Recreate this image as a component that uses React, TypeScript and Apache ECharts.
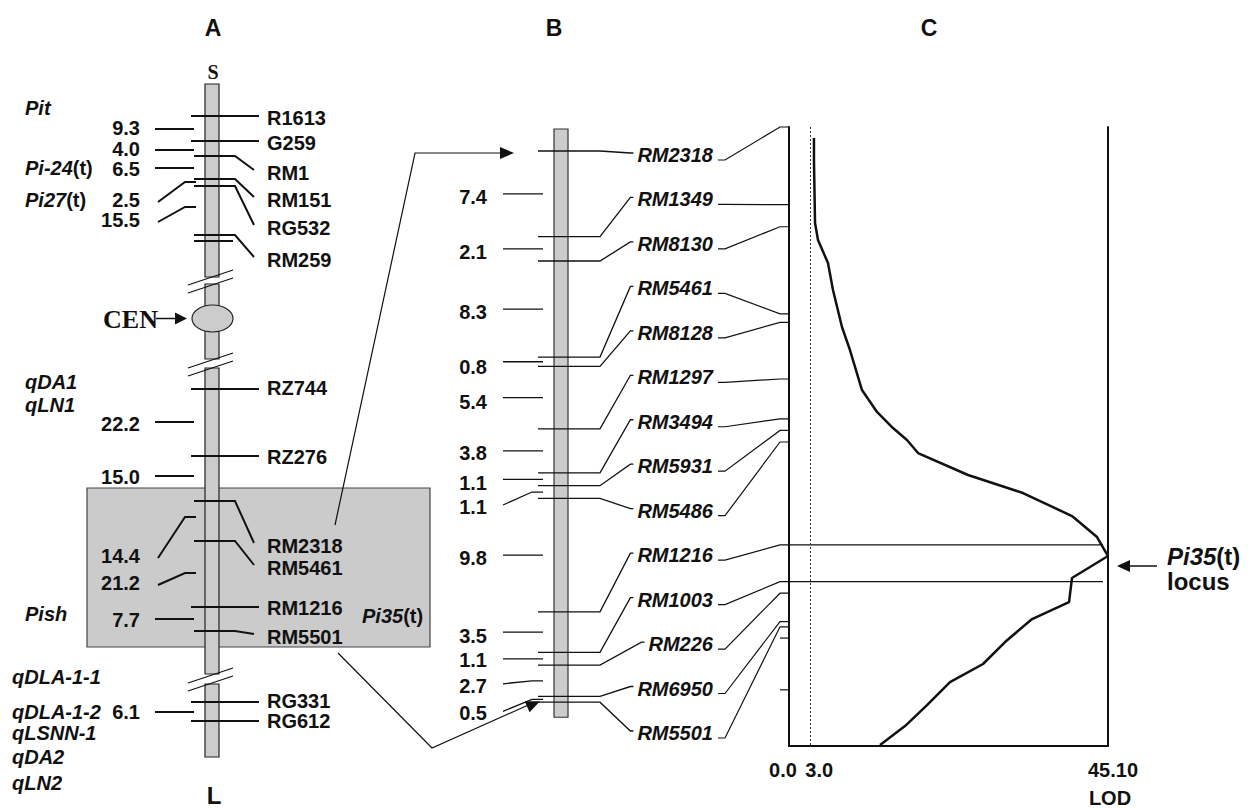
import React, { useEffect, useRef } from "react";
import * as echarts from "echarts";

// ---------------- DATA ----------------
// Panel A: chromosome-level map (schematic)
const aMarkerNames = ["R1613", "G259", "RM1", "RM151", "RG532", "RM259", "RZ744", "RZ276", "RM2318", "RM5461", "RM1216", "RM5501", "RG331", "RG612"];
const aIntervalLabels = ["9.3", "4.0", "6.5", "2.5", "15.5", "22.2", "15.0", "14.4", "21.2", "7.7", "6.1"];
const aQtlLabels = ["Pit", "Pi-24(t)", "Pi27(t)", "qDA1", "qLN1", "Pish", "qDLA-1-1", "qDLA-1-2", "qLSNN-1", "qDA2", "qLN2"];

// Panel B: fine map (cM intervals between adjacent markers)
const bMarkerNames = ["RM2318", "RM1349", "RM8130", "RM5461", "RM8128", "RM1297", "RM3494", "RM5931", "RM5486", "RM1216", "RM1003", "RM226", "RM6950", "RM5501"];
const bIntervals = [7.4, 2.1, 8.3, 0.8, 5.4, 3.8, 1.1, 1.1, 9.8, 3.5, 1.1, 2.7, 0.5];

// Panel C: LOD profile (LOD value at map position in cM)
const lodValues = [3.53, 3.53, 3.68, 4.1, 5.51, 6.22, 7.49, 8.62, 10.32, 12.44, 14.7, 16.68, 18.24, 25.31, 33.08, 40.01, 43.55, 45.1, 40.01, 39.59, 34.36, 30.54, 27.43, 22.76, 19.51, 16.4, 12.87];
const lodPositions = [1.05, 3.14, 9.14, 10.76, 12.95, 15.52, 19.05, 21.24, 25.05, 27.14, 28.67, 29.81, 31.05, 33.14, 34.86, 37.05, 39.05, 40.86, 42.95, 45.24, 46.86, 49.05, 51.14, 52.86, 55.05, 57.05, 58.86];
const lodTickLabels = ["0.0", "3.0", "45.10"];
const lodTickValues = [0, 3, 45.1];
const lodThreshold = 3.0;
const lodMax = 45.1;
const cMapLength = 58.95;
const cExtraTicks = [48.67, 53.6];
const cHighlighted = ["RM1216", "RM1003"];

// cumulative marker positions (cM) derived from the intervals
const bPositions = bIntervals.reduce((acc: number[], v) => {
  acc.push(Math.round((acc[acc.length - 1] + v) * 100) / 100);
  return acc;
}, [0]);

// ---------------- LAYOUT ----------------
const W = 1254;
const H = 808;
const FONT = "'Liberation Sans', Arial, Helvetica, sans-serif";
const SERIF = "'Liberation Serif', 'Times New Roman', serif";
const INK = "#111";
const BAR_FILL = "#cccccc";
const LH = 16;

const A = {
  barX: 205,
  barW: 14,
  segments: [[84, 277], [284, 359], [368, 674], [684, 757]],
  breaks: [[277, 285], [360, 368], [675, 683]],
  cen: { cx: 212.5, cy: 318.5, rx: 20.5, ry: 13.5 },
  markerY: [116, 141, 156, 179, 186, 235, 389, 456, 501, 541, 607, 631, 702, 721],
  labelY: [118, 143, 173, 200, 228, 260, 388, 457, 546, 568, 608, 637, 701, 721],
  extraTickY: [241],
  intervalY: [128, 149, 169, 200, 220, 424, 477, 556, 583, 620, 712],
  intervalLineY: [129, 150, 168, 182, 207, 422, 476, 517, 573, 619, 712],
  qtlX: [25, 25, 25, 25, 25, 25, 12, 12, 12, 12, 12],
  qtlY: [108, 168, 200, 382, 405, 614, 677, 712, 733, 757, 783],
  box: [87, 488, 430, 647],
};

const B = {
  zeroPx: 151,
  pxPerCM: 11.58,
  barX: 554,
  barW: 14,
  barTopCM: -1.9,
  barBotCM: 48.9,
  tickX1: 538,
  tickX2: 600,
  labelRight: 713,
  slot0: 4,
  slotStep: 44.46,
  intX1: 503,
  intX2: 543,
  intLabelRight: 487,
  intLabelShift: [3, 3, 3, 5, 4, 2, 4, 15, 3, 4, 1, 5, 14],
  intBent: [7, 11, 12],
};
const bMin = -B.zeroPx / B.pxPerCM;
const bMax = bMin + H / B.pxPerCM;

const C = { left: 789, top: 127, width: 319, height: 619, tickLen: 9, connStart: 718, connBend: 725, connKnee: 780 };

let measureCtx: CanvasRenderingContext2D | null = null;
function measure(text: string, font: string) {
  if (!measureCtx) measureCtx = document.createElement("canvas").getContext("2d");
  if (!measureCtx) return text.length * 12.8;
  measureCtx.font = font;
  return measureCtx.measureText(text).width;
}

function arrowHead(tip: number[], from: number[], len: number, half: number) {
  const dx = tip[0] - from[0];
  const dy = tip[1] - from[1];
  const d = Math.hypot(dx, dy) || 1;
  const ux = dx / d;
  const uy = dy / d;
  const bx = tip[0] - ux * len;
  const by = tip[1] - uy * len;
  return [[tip[0], tip[1]], [bx - uy * half, by + ux * half], [bx + uy * half, by - ux * half]];
}

function txt(x: number, y: number, text: string, font: string, align = "left", rich?: any) {
  return {
    type: "text",
    x,
    y,
    style: { text, font, fill: INK, lineHeight: LH, align, textAlign: align, verticalAlign: "middle", textVerticalAlign: "middle", rich },
  };
}

function pl(points: number[][], w = 2, color = INK) {
  return { type: "polyline", shape: { points }, style: { fill: "none", stroke: color, lineWidth: w } };
}

const F20 = `bold 20px ${FONT}`;
const FI20 = `italic bold 20px ${FONT}`;
const qtlRich = { i: { font: FI20, fill: INK, lineHeight: LH }, n: { font: F20, fill: INK, lineHeight: LH } };
function qtlText(s: string) {
  const m = s.match(/^(.*)(\(t\))$/);
  return m ? `{i|${m[1]}}{n|${m[2]}}` : `{i|${s}}`;
}

// ---------------- RENDERERS ----------------
const renderA = (_p: any, api: any) => {
  const P = (x: number, y: number) => api.coord([x, y]);
  const ch: any[] = [];
  const [bx1, by1] = P(A.box[0], A.box[1]);
  const [bx2, by2] = P(A.box[2], A.box[3]);
  ch.push({ type: "rect", shape: { x: bx1, y: by1, width: bx2 - bx1, height: by2 - by1 }, style: { fill: "#cbcbcb", stroke: "#444", lineWidth: 1.2 } });
  A.segments.forEach(([t, b]) => {
    const [x1, y1] = P(A.barX, t);
    const [x2, y2] = P(A.barX + A.barW, b);
    ch.push({ type: "rect", shape: { x: x1, y: y1, width: x2 - x1, height: y2 - y1 }, style: { fill: BAR_FILL, stroke: "#222", lineWidth: 1.2 } });
  });
  const c = P(A.cen.cx, A.cen.cy);
  ch.push({ type: "ellipse", shape: { cx: c[0], cy: c[1], rx: A.cen.rx, ry: A.cen.ry }, style: { fill: BAR_FILL, stroke: "#222", lineWidth: 1.2 } });
  const mid = A.barX + A.barW / 2;
  A.breaks.forEach((br) => {
    br.forEach((y) => {
      ch.push(pl([P(mid - 24, y + 8), P(mid + 21, y - 7)], 1.2));
    });
  });
  // CEN arrow
  ch.push(pl([P(156, A.cen.cy), P(176, A.cen.cy)], 1.5));
  ch.push({ type: "polygon", shape: { points: arrowHead(P(187, A.cen.cy), P(156, A.cen.cy), 12, 6) }, style: { fill: INK } });
  // markers
  aMarkerNames.forEach((name, i) => {
    const my = A.markerY[i];
    const ly = A.labelY[i];
    if (Math.abs(ly - my) <= 2) {
      ch.push(pl([P(191, my), P(259, my)], 2));
    } else {
      ch.push(pl([P(194, my), P(235, my), P(254, ly - 3)], 2));
    }
    ch.push(txt(P(267, ly)[0], P(267, ly)[1], name, F20));
  });
  A.extraTickY.forEach((y) => ch.push(pl([P(194, y), P(233, y)], 2)));
  // intervals
  aIntervalLabels.forEach((lab, j) => {
    const ly = A.intervalY[j];
    const ty = A.intervalLineY[j];
    if (Math.abs(ly - ty) <= 3) {
      ch.push(pl([P(155, ty), P(194, ty)], 2));
    } else {
      ch.push(pl([P(158, ly + 2), P(185, ty), P(196, ty)], 2));
    }
    ch.push(txt(P(140, ly)[0], P(140, ly)[1], lab, F20, "right"));
  });
  // QTL / gene labels
  aQtlLabels.forEach((q, k) => {
    const p = P(A.qtlX[k], A.qtlY[k]);
    ch.push(txt(p[0], p[1], qtlText(q), FI20, "left", qtlRich));
  });
  // Pi35(t) in box
  const pp = P(362, 616);
  ch.push(txt(pp[0], pp[1], "{i|Pi35}{n|(t)}", FI20, "left", qtlRich));
  return { type: "group", children: ch };
};

const renderB = (_p: any, api: any) => {
  const X = (x: number) => api.coord([x, 0])[0];
  const Y = (v: number) => api.coord([0, v])[1];
  const ch: any[] = [];
  const y0 = Y(B.barTopCM);
  const y1 = Y(B.barBotCM);
  ch.push({ type: "rect", shape: { x: X(B.barX), y: y0, width: X(B.barX + B.barW) - X(B.barX), height: y1 - y0 }, style: { fill: BAR_FILL, stroke: "#333", lineWidth: 1.2 } });
  const zero = Y(0);
  bMarkerNames.forEach((name, i) => {
    const y = Y(bPositions[i]);
    const slot = zero + B.slot0 + i * B.slotStep;
    const tw = measure(name, FI20);
    const endX = B.labelRight - tw - 7;
    ch.push(pl([[X(B.tickX1), y], [X(B.tickX2), y], [endX, slot - 2], [endX + 3, slot - 2]], 1.3));
    ch.push(txt(X(B.labelRight), slot, name, FI20, "right"));
  });
  bIntervals.forEach((v, j) => {
    const y = Y(bPositions[j] + v / 2);
    const shift = B.intLabelShift[j];
    if (B.intBent.indexOf(j) >= 0) {
      ch.push(pl([[X(B.intX1), y + shift - 2], [X(B.intX2 - 11), y], [X(B.intX2), y]], 1.3));
    } else {
      ch.push(pl([[X(B.intX1), y], [X(B.intX2), y]], 1.3));
    }
    ch.push(txt(X(B.intLabelRight), y + shift, v.toFixed(1), F20, "right"));
  });
  return { type: "group", children: ch };
};

const renderC = (_p: any, api: any) => {
  const P = (x: number, y: number) => api.coord([x, y]);
  const ch: any[] = [];
  cHighlighted.forEach((name) => {
    const cm = bPositions[bMarkerNames.indexOf(name)];
    ch.push(pl([P(0, cm), [P(lodMax, cm)[0] - 5, P(lodMax, cm)[1]]], 1.2));
  });
  cExtraTicks.forEach((cm) => {
    const p = P(0, cm);
    ch.push(pl([[p[0] - C.tickLen, p[1]], p], 1.2));
  });
  const offs = [-6, 9, 5];
  lodTickValues.forEach((v, k) => {
    const p = P(v, cMapLength);
    ch.push(txt(p[0] + offs[k], p[1] + 24, lodTickLabels[k], F20, "center"));
  });
  const pl2 = P(lodMax, cMapLength);
  ch.push(txt(pl2[0] + 2, pl2[1] + 52, "LOD", F20, "center"));
  return { type: "group", children: ch };
};

function baseOption(): any {
  const hidden = { show: false };
  const F24 = `bold 24px ${FONT}`;
  return {
    animation: false,
    backgroundColor: "#ffffff",
    grid: [
      { left: 0, top: 0, width: W, height: H, outerBoundsMode: "none" },
      { left: 0, top: 0, width: W, height: H, outerBoundsMode: "none" },
      { left: C.left, top: C.top, width: C.width, height: C.height, outerBoundsMode: "none" },
    ],
    xAxis: [
      { gridIndex: 0, type: "value", min: 0, max: W, ...hidden },
      { gridIndex: 1, type: "value", min: 0, max: W, ...hidden },
      {
        gridIndex: 2, type: "value", min: 0, max: lodMax,
        axisLine: { show: true, onZero: false, lineStyle: { color: INK, width: 2 } },
        axisTick: { show: false }, axisLabel: { show: false }, splitLine: { show: false },
      },
    ],
    yAxis: [
      { gridIndex: 0, type: "value", min: 0, max: H, inverse: true, ...hidden },
      { gridIndex: 1, type: "value", min: bMin, max: bMax, inverse: true, ...hidden },
      {
        gridIndex: 2, type: "value", min: 0, max: cMapLength, inverse: true, position: "left",
        axisLine: { show: true, onZero: false, lineStyle: { color: INK, width: 2 } },
        axisTick: { show: false }, axisLabel: { show: false }, splitLine: { show: false },
      },
      {
        gridIndex: 2, type: "value", min: 0, max: cMapLength, inverse: true, position: "right",
        axisLine: { show: true, onZero: false, lineStyle: { color: INK, width: 2 } },
        axisTick: { show: false }, axisLabel: { show: false }, splitLine: { show: false },
      },
    ],
    graphic: [
      { type: "text", x: 213, y: 28, style: { text: "A", font: `bold 23px ${FONT}`, fill: INK, align: "center", textAlign: "center", verticalAlign: "middle", textVerticalAlign: "middle" } },
      { type: "text", x: 554, y: 28, style: { text: "B", font: `bold 23px ${FONT}`, fill: INK, align: "center", textAlign: "center", verticalAlign: "middle", textVerticalAlign: "middle" } },
      { type: "text", x: 929, y: 28, style: { text: "C", font: `bold 23px ${FONT}`, fill: INK, align: "center", textAlign: "center", verticalAlign: "middle", textVerticalAlign: "middle" } },
      { type: "text", x: 213, y: 72, style: { text: "S", font: `bold 20px ${SERIF}`, fill: INK, align: "center", textAlign: "center", verticalAlign: "middle", textVerticalAlign: "middle" } },
      { type: "text", x: 214, y: 795, style: { text: "L", font: `bold 24px ${FONT}`, fill: INK, lineHeight: 20, align: "center", textAlign: "center", verticalAlign: "middle", textVerticalAlign: "middle" } },
      { type: "text", x: 158, y: 319, style: { text: "CEN", font: `bold 26px ${SERIF}`, fill: INK, align: "right", textAlign: "right", verticalAlign: "middle", textVerticalAlign: "middle" } },
      {
        type: "text", x: 1167, y: 556,
        style: {
          text: "{i|Pi35}{n|(t)}", font: F24, fill: INK, lineHeight: 21, verticalAlign: "middle", textVerticalAlign: "middle",
          rich: { i: { font: `italic bold 24px ${FONT}`, fill: INK, lineHeight: 21 }, n: { font: F24, fill: INK, lineHeight: 21 } },
        },
      },
      { type: "text", x: 1167, y: 581, style: { text: "locus", font: F24, fill: INK, lineHeight: 21, verticalAlign: "middle", textVerticalAlign: "middle" } },
      { type: "line", shape: { x1: 1129, y1: 566, x2: 1157, y2: 566 }, style: { stroke: INK, lineWidth: 1.5 } },
      { type: "polygon", shape: { points: arrowHead([1117, 566], [1157, 566], 13, 6) }, style: { fill: INK } },
    ],
    series: [
      { type: "custom", name: "panelA", xAxisIndex: 0, yAxisIndex: 0, data: [[0, 0]], renderItem: renderA, silent: true, z: 2 },
      { type: "custom", name: "panelB", xAxisIndex: 1, yAxisIndex: 1, data: [[0, 0]], renderItem: renderB, silent: true, z: 3 },
      { type: "custom", name: "panelC", xAxisIndex: 2, yAxisIndex: 2, data: [[0, 0]], renderItem: renderC, silent: true, z: 3 },
      {
        type: "line", name: "LOD", xAxisIndex: 2, yAxisIndex: 2,
        data: lodValues.map((v, i) => [v, lodPositions[i]]),
        symbol: "none", silent: true, z: 4,
        lineStyle: { color: INK, width: 2.5 },
        markLine: {
          silent: true, symbol: "none", label: { show: false },
          lineStyle: { color: "#333", width: 1, type: [2, 2] },
          data: [{ xAxis: lodThreshold }],
        },
      },
    ],
  };
}

export default function App() {
  const ref = useRef<HTMLDivElement>(null);
  useEffect(() => {
    if (!ref.current) return;
    const chart = echarts.init(ref.current, null, { renderer: "svg", width: W, height: H });
    const option = baseOption();
    chart.setOption(option);

    const pB = (v: number) => chart.convertToPixel({ yAxisIndex: 1 } as any, v) as unknown as number;
    const pC = (v: number) => chart.convertToPixel({ yAxisIndex: 2 } as any, v) as unknown as number;
    const xC = (v: number) => chart.convertToPixel({ xAxisIndex: 2 } as any, v) as unknown as number;

    const lines: number[][][] = [];
    const heads: number[][][] = [];
    const zero = pB(0);
    bMarkerNames.forEach((_n, i) => {
      const sy = zero + B.slot0 + i * B.slotStep + 5;
      const yc = pC(bPositions[i]);
      lines.push([[C.connStart, sy], [C.connBend, sy], [C.connKnee, yc], [xC(0), yc]]);
    });
    const tipU = pB(bPositions[0]) + 2;
    lines.push([[335, 525], [415, tipU], [502, tipU]]);
    heads.push(arrowHead([514, tipU], [415, tipU], 14, 6));
    const tipL = pB(bPositions[bPositions.length - 1]) - 1;
    lines.push([[338, 653], [432, 748], [530, tipL + 3]]);
    heads.push(arrowHead([540, tipL], [432, 748], 14, 6));

    const renderConn = (_p: any, api: any) => {
      const P = (pt: number[]) => api.coord(pt);
      const ch: any[] = [];
      lines.forEach((ln) => ch.push(pl(ln.map(P), 1.2)));
      heads.forEach((h) => ch.push({ type: "polygon", shape: { points: h.map(P) }, style: { fill: INK } }));
      return { type: "group", children: ch };
    };
    chart.setOption({
      series: [
        ...option.series,
        { type: "custom", name: "connectors", xAxisIndex: 0, yAxisIndex: 0, data: [[0, 0]], renderItem: renderConn, silent: true, z: 5 },
      ],
    });
    return () => chart.dispose();
  }, []);
  return <div ref={ref} style={{ position: "fixed", left: 0, top: 0, width: W, height: H, background: "#fff" }} />;
}
